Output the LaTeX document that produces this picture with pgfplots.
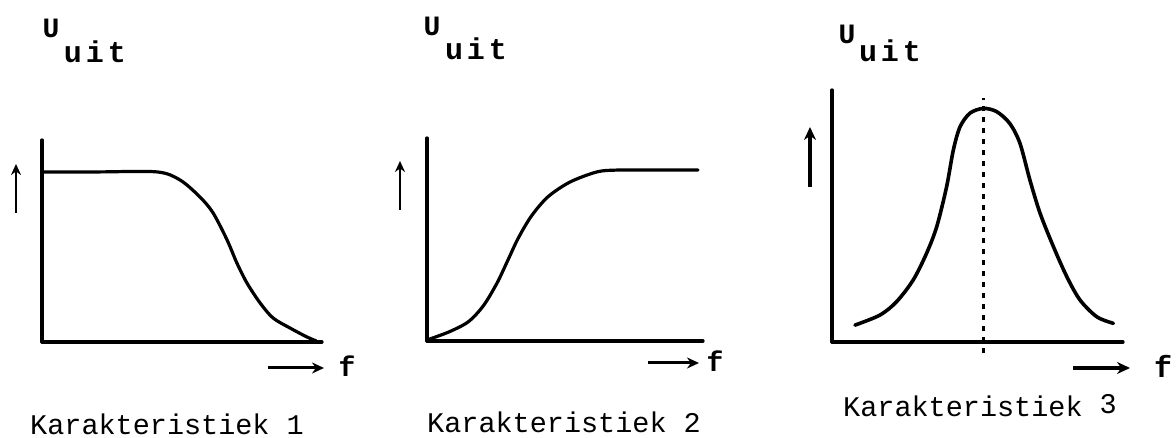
\documentclass[border=0pt]{standalone}
\usepackage{pgfplots}
\pgfplotsset{compat=1.18}
\usepackage{fontspec}
\setmainfont{Liberation Mono}
\usetikzlibrary{arrows.meta}

\pgfplotsset{
  kar/.style={
    scale only axis, clip=false, anchor=south west,
    xmin=0, xmax=10, ymin=0, ymax=10, enlargelimits=false,
    axis lines=left, axis line style={-, line width=3.2pt, black, line cap=round},
    ticks=none,
  },
  curve/.style={black, line width=3.2pt, smooth, no markers, line cap=round},
}

\newcommand{\uitlab}{{\bfseries\fontsize{30}{32}\selectfont u\kern4pt i\kern4pt t}}
\newcommand{\Ulab}{{\bfseries\fontsize{28}{30}\selectfont U}}
\newcommand{\kar}{\fontsize{28.5}{30}\selectfont}

\begin{document}
\begin{tikzpicture}
\useasboundingbox (0pt,0pt) rectangle (1176pt,438pt);

% Karakteristiek 1: laagdoorlaat
\begin{axis}[kar, at={(42pt,96pt)}, width=280pt, height=202pt]
\addplot[curve] coordinates {
  (0,8.42) (2,8.42) (4.11,8.42) (4.93,8.02) (5.64,7.18) (6.11,6.39) (6.61,5.05)
  (6.96,3.91) (7.32,2.92) (7.79,1.93) (8.25,1.19) (8.86,0.69) (9.46,0.25) (9.8,0.05)
};
\end{axis}

% Karakteristiek 2: hoogdoorlaat
\begin{axis}[kar, at={(427pt,97pt)}, width=276pt, height=203pt]
\addplot[curve] coordinates {
  (0,0.05) (0.8,0.45) (1.5,0.95) (2.05,1.75) (2.54,2.86) (2.92,3.95) (3.30,5.05)
  (3.78,6.15) (4.38,7.10) (5.18,7.83) (6.16,8.33) (6.9,8.42) (8.2,8.42) (9.82,8.42)
};
\end{axis}

% Karakteristiek 3: banddoorlaat
\begin{axis}[kar, at={(832pt,96pt)}, width=291pt, height=252pt]
\addplot[curve, line width=3.6pt] coordinates {
  (0.79,0.67) (1.65,1.07) (2.22,1.60) (2.79,2.46) (3.25,3.52) (3.60,4.58) (3.94,6.17)
  (4.17,7.62) (4.40,8.54) (4.74,9.08) (5.20,9.27) (5.66,9.14) (6.11,8.67) (6.46,7.88)
  (6.80,6.43) (7.15,5.11) (7.61,3.78) (8.07,2.59) (8.52,1.67) (9.10,1.00) (9.67,0.74)
};
\addplot[black, line width=2.4pt, dash pattern=on 5pt off 6pt] coordinates {(5.2,-0.45) (5.2,9.7)};
\end{axis}

% labels U_uit
\node at (51pt,410pt) {\Ulab};
\node[anchor=base] at (95pt,375pt) {\uitlab};
\node at (432pt,412pt) {\Ulab};
\node[anchor=base] at (476pt,378pt) {\uitlab};
\node at (847pt,404pt) {\Ulab};
\node[anchor=base] at (890pt,376pt) {\uitlab};

% pijlen
\draw[line width=2.6pt, -{Stealth[length=11pt,width=10pt]}] (16pt,225pt) -- (16pt,274pt);
\draw[line width=2.6pt, -{Stealth[length=11pt,width=10pt]}] (400pt,228pt) -- (400pt,277pt);
\draw[line width=3.2pt, -{Stealth[length=13pt,width=12pt]}] (810pt,251pt) -- (810pt,311pt);

\draw[line width=3pt, -{Stealth[length=12pt,width=11pt]}] (268pt,70pt) -- (324pt,70pt);
\node[font=\bfseries\fontsize{28}{30}\selectfont] at (347pt,72pt) {f};
\draw[line width=3pt, -{Stealth[length=12pt,width=11pt]}] (648pt,75pt) -- (699pt,75pt);
\node[font=\bfseries\fontsize{28}{30}\selectfont] at (715pt,77pt) {f};
\draw[line width=3.2pt, -{Stealth[length=13pt,width=12pt]}] (1073pt,70pt) -- (1130pt,70pt);
\node[font=\bfseries\fontsize{30}{32}\selectfont] at (1163pt,72pt) {f};

% onderschriften
\node[anchor=base west, inner sep=0pt] at (30pt,3pt) {\kar Karakteristiek 1};
\node[anchor=base west, inner sep=0pt] at (427pt,5pt) {\kar Karakteristiek 2};
\node[anchor=base west, inner sep=0pt] at (843pt,21pt) {\kar Karakteristiek \raisebox{3pt}{3}};
\end{tikzpicture}
\end{document}
